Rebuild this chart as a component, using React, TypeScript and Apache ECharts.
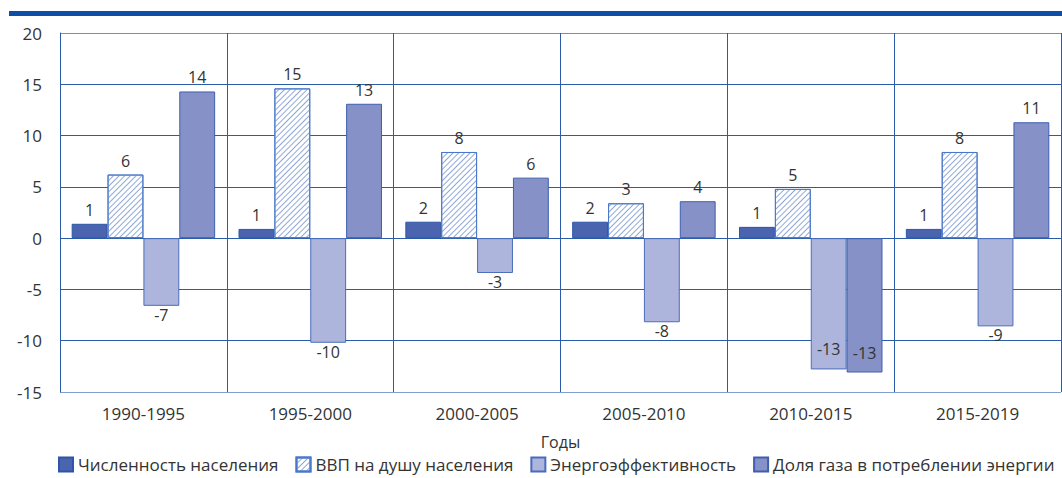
import React, { useEffect, useRef } from "react";
import * as echarts from "echarts";

const categories = ["1990-1995", "1995-2000", "2000-2005", "2005-2010", "2010-2015", "2015-2019"];
const population = [1.4, 0.9, 1.6, 1.6, 1.1, 0.9];
const gdpPerCapita = [6.2, 14.6, 8.4, 3.4, 4.8, 8.4];
const energyEfficiency = [-6.6, -10.2, -3.4, -8.2, -12.8, -8.6];
const gasShare = [14.3, 13.1, 5.9, 3.6, -13.1, 11.3];
const seriesNames = [
  "Численность населения",
  "ВВП на душу населения",
  "Энергоэффективность",
  "Доля газа в потреблении энергии",
];
const xAxisName = "Годы";

const FONT = "'Open Sans', 'Noto Sans', sans-serif";

function mkData(vals: number[], insideIdx: number[] = []) {
  return vals.map((v, i) => {
    if (v >= 0) return { value: v, label: { position: "top", distance: 6 } };
    if (insideIdx.includes(i)) return { value: v, label: { position: "insideBottom", distance: 12 } };
    return { value: v, label: { position: "bottom", distance: 1 } };
  });
}

export default function App() {
  const ref = useRef<HTMLDivElement>(null);
  useEffect(() => {
    const chart = echarts.init(ref.current!, null, { renderer: "svg" });
    const label = {
      show: true,
      color: "#333",
      fontSize: 16,
      fontFamily: FONT,
      formatter: (p: any) => String(Math.round(p.value)),
    };
    chart.setOption({
      animation: false,
      textStyle: { fontFamily: FONT },
      graphic: [
        { type: "rect", shape: { x: 9, y: 11, width: 1053, height: 5 }, style: { fill: "#0d4ea6" } },
      ],
      grid: { left: 60, right: 1, top: 33, bottom: 86 },
      legend: {
        bottom: 5,
        left: 58,
        padding: 0,
        icon: "rect",
        itemWidth: 14,
        itemHeight: 14,
        itemGap: 17,
        textStyle: { color: "#333", fontSize: 17, fontFamily: FONT },
        data: seriesNames,
      },
      xAxis: {
        type: "category",
        data: categories,
        name: xAxisName,
        nameLocation: "middle",
        nameGap: 42,
        nameTextStyle: { color: "#333", fontSize: 16, fontFamily: FONT },
        axisLine: { show: false },
        axisTick: { show: false },
        axisLabel: { color: "#333", fontSize: 17, margin: 13, fontFamily: FONT },
        splitLine: { show: true, interval: 0, lineStyle: { color: "#2a5caa", width: 1 } },
      },
      yAxis: {
        type: "value",
        min: -15,
        max: 20,
        interval: 5,
        axisLine: { show: true, lineStyle: { color: "#2a5caa" } },
        axisTick: { show: false },
        axisLabel: { color: "#333", fontSize: 17, margin: 18, fontFamily: FONT },
        splitLine: {
          show: true,
          lineStyle: {
            color: ["#7f9fd0", "#2a5caa", "#2a5caa", "#2a5caa", "#2a5caa", "#2a5caa", "#2a5caa", "#6a8fcc"],
            width: 1,
          },
        },
      },
      series: [
        {
          name: seriesNames[0],
          type: "bar",
          barGap: "0%",
          barCategoryGap: "14%",
          data: mkData(population),
          label,
          itemStyle: { color: "#4a64b0", borderColor: "#2e55a8", borderWidth: 1 },
        },
        {
          name: seriesNames[1],
          type: "bar",
          data: mkData(gdpPerCapita),
          label,
          itemStyle: {
            color: "#ffffff",
            borderColor: "#4a78c8",
            borderWidth: 1,
            decal: {
              symbol: "rect",
              dashArrayX: [1, 0],
              dashArrayY: [1, 3],
              rotation: -Math.PI / 4,
              color: "#8fa8d8",
            },
          },
        },
        {
          name: seriesNames[2],
          type: "bar",
          data: mkData(energyEfficiency, [4]),
          label,
          itemStyle: { color: "#adb5dc", borderColor: "#4a6cbc", borderWidth: 1 },
        },
        {
          name: seriesNames[3],
          type: "bar",
          data: mkData(gasShare, [4]),
          label,
          itemStyle: { color: "#8591c7", borderColor: "#3e5fb0", borderWidth: 1 },
        },
      ],
    });
    return () => chart.dispose();
  }, []);
  return (
    <div
      ref={ref}
      style={{ position: "fixed", left: 0, top: 0, width: 1062, height: 478, background: "#fff" }}
    />
  );
}
